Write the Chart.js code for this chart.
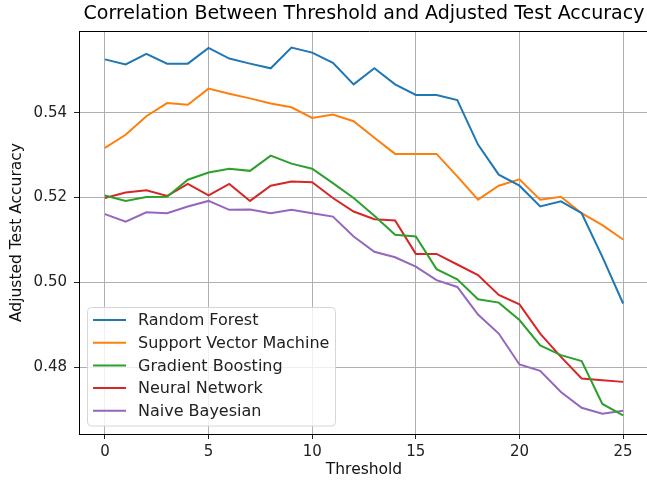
<!DOCTYPE html>
<html>
<head>
<meta charset="utf-8">
<script src="https://cdn.jsdelivr.net/npm/chart.js@4"></script>
<style>
  html, body { margin: 0; padding: 0; overflow: hidden; background: #fff; }
  canvas { display: block; }
</style>
</head>
<body>
<canvas id="myChart" width="680" height="484"></canvas>
<script>
const thresholds = [0, 1, 2, 3, 4, 5, 6, 7, 8, 9, 10, 11, 12, 13, 14, 15, 16, 17, 18, 19, 20, 21, 22, 23, 24, 25];

const randomForest = [0.5526, 0.5514, 0.5539, 0.5516, 0.5516, 0.5553, 0.5528, 0.5516, 0.5505, 0.5554, 0.5542, 0.5518, 0.5467,
  0.5505, 0.5467, 0.5442, 0.5442, 0.5430, 0.5325, 0.5254, 0.5228, 0.5179, 0.5191, 0.5163, 0.5060, 0.4950];
const svm = [0.5317, 0.5348, 0.5392, 0.5423, 0.5419, 0.5457, 0.5445, 0.5434, 0.5422, 0.5413, 0.5388, 0.5396, 0.5380,
  0.5341, 0.5303, 0.5303, 0.5303, 0.5250, 0.5195, 0.5228, 0.5243, 0.5195, 0.5202, 0.5163, 0.5135, 0.5101];
const gradientBoosting = [0.5205, 0.5192, 0.5201, 0.5202, 0.5242, 0.5259, 0.5268, 0.5263, 0.5299, 0.5280, 0.5268, 0.5234, 0.5199,
  0.5157, 0.5112, 0.5108, 0.5031, 0.5007, 0.4960, 0.4952, 0.4911, 0.4851, 0.4828, 0.4814, 0.4713, 0.4686];
const neuralNetwork = [0.5199, 0.5212, 0.5217, 0.5204, 0.5232, 0.5205, 0.5232, 0.5192, 0.5228, 0.5238, 0.5236, 0.5199, 0.5167,
  0.5149, 0.5146, 0.5067, 0.5067, 0.5042, 0.5017, 0.4970, 0.4948, 0.4879, 0.4824, 0.4773, 0.4769, 0.4765];
const naiveBayesian = [0.5161, 0.5143, 0.5165, 0.5163, 0.5179, 0.5192, 0.5171, 0.5172, 0.5163, 0.5171, 0.5163, 0.5155, 0.5108,
  0.5072, 0.5059, 0.5037, 0.5005, 0.4989, 0.4924, 0.4879, 0.4806, 0.4791, 0.4741, 0.4704, 0.4690, 0.4697];

const seriesNames = ["Random Forest", "Support Vector Machine", "Gradient Boosting", "Neural Network", "Naive Bayesian"];
const seriesColors = ["#1f77b4", "#ff7f0e", "#2ca02c", "#d62728", "#9467bd"];
const xTicks = [0, 5, 10, 15, 20, 25];
const yTicks = [0.48, 0.50, 0.52, 0.54];

const FONT = "'DejaVu Sans', sans-serif";

function points(values) {
  return thresholds.map((t, i) => ({ x: t, y: values[i] }));
}

const allSeries = [randomForest, svm, gradientBoosting, neuralNetwork, naiveBayesian];

// title, top frame line and legend drawn by hand, matplotlib style
const extras = {
  id: "extras",
  afterDraw(chart) {
    const ctx = chart.ctx;
    const a = chart.chartArea;
    ctx.save();
    ctx.strokeStyle = "#000";
    ctx.lineWidth = 1;
    ctx.beginPath();
    ctx.moveTo(a.left, Math.round(a.top) + 0.5);
    ctx.lineTo(a.right, Math.round(a.top) + 0.5);
    ctx.stroke();

    // the real axes box ends at x=649, title centred on it
    ctx.fillStyle = "#000";
    ctx.font = "19px " + FONT;
    ctx.textAlign = "center";
    ctx.textBaseline = "middle";
    ctx.fillText("Correlation Between Threshold and Adjusted Test Accuracy", (a.left + 649) / 2, 14);

    const lx = 87.5, ly = 307.5, lw = 248, lh = 118.5, r = 4;
    ctx.beginPath();
    ctx.moveTo(lx + r, ly);
    ctx.arcTo(lx + lw, ly, lx + lw, ly + lh, r);
    ctx.arcTo(lx + lw, ly + lh, lx, ly + lh, r);
    ctx.arcTo(lx, ly + lh, lx, ly, r);
    ctx.arcTo(lx, ly, lx + lw, ly, r);
    ctx.closePath();
    ctx.fillStyle = "rgba(255,255,255,0.8)";
    ctx.fill();
    ctx.strokeStyle = "#d6d6d6";
    ctx.stroke();

    ctx.font = "16px " + FONT;
    ctx.textAlign = "left";
    for (let i = 0; i < seriesNames.length; i++) {
      const y = 320 + i * 22.7;
      ctx.strokeStyle = seriesColors[i];
      ctx.lineWidth = 2;
      ctx.beginPath();
      ctx.moveTo(93, y);
      ctx.lineTo(126, y);
      ctx.stroke();
      ctx.fillStyle = "#222";
      ctx.fillText(seriesNames[i], 138, y + 1);
    }
    ctx.restore();
  }
};

new Chart(document.getElementById("myChart"), {
  type: "line",
  data: {
    datasets: allSeries.map((vals, i) => ({
      label: seriesNames[i],
      data: points(vals),
      borderColor: seriesColors[i],
      backgroundColor: seriesColors[i],
      borderWidth: 2,
      pointRadius: 0,
      tension: 0,
      fill: false,
    })),
  },
  options: {
    responsive: false,
    animation: false,
    layout: { padding: { left: 0, top: 31, right: 20, bottom: 0 } },
    plugins: { legend: { display: false }, tooltip: { enabled: false }, title: { display: false } },
    scales: {
      x: {
        type: "linear",
        min: -1.25,
        max: 26.78,
        afterBuildTicks: (scale) => { scale.ticks = xTicks.map(v => ({ value: v })); },
        afterFit: (scale) => { scale.height = 50; },
        ticks: { font: { family: FONT, size: 15 }, color: "#222", padding: 4, maxRotation: 0 },
        grid: { color: "#b0b0b0", lineWidth: 1, tickLength: 5, tickColor: "#222" },
        border: { color: "#000", width: 1 },
        title: { display: false },
      },
      y: {
        min: 0.4642,
        max: 0.5593,
        afterBuildTicks: (scale) => { scale.ticks = yTicks.map(v => ({ value: v })); },
        afterFit: (scale) => { scale.width = 79; },
        ticks: { font: { family: FONT, size: 15 }, color: "#222", padding: 7, callback: (v) => v.toFixed(2) },
        grid: { color: "#b0b0b0", lineWidth: 1, tickLength: 5, tickColor: "#222" },
        border: { color: "#000", width: 1 },
        title: { display: true, text: "Adjusted Test Accuracy", font: { family: FONT, size: 15.5 }, color: "#111", padding: { top: 8, bottom: 0 } },
      },
    },
  },
  plugins: [extras, {
    id: "xTitle",
    afterDraw(chart) {
      const ctx = chart.ctx;
      ctx.save();
      ctx.fillStyle = "#111";
      ctx.font = "15.5px " + FONT;
      ctx.textAlign = "center";
      ctx.textBaseline = "middle";
      ctx.fillText("Threshold", (chart.chartArea.left + 649) / 2, 470);
      ctx.restore();
    }
  }],
});
</script>
</body>
</html>
